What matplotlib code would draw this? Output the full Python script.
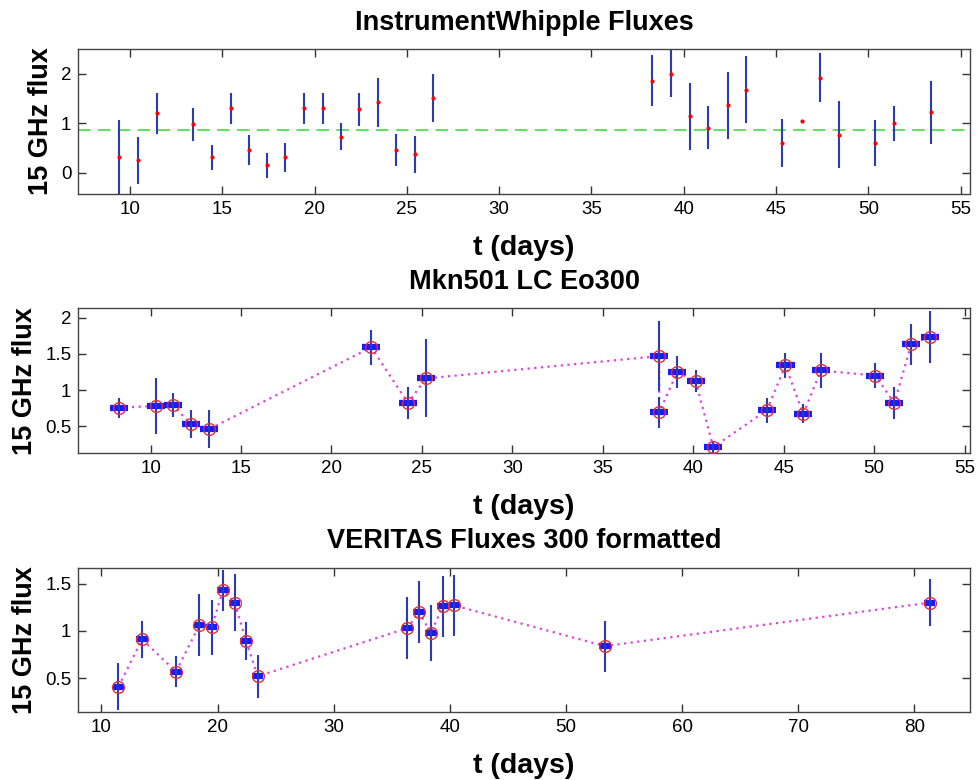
import numpy as np
import matplotlib
matplotlib.use("Agg")
import matplotlib.pyplot as plt

plt.rcParams['font.family'] = ['Liberation Sans', 'DejaVu Sans']

# panel 1 : Instrument Whipple fluxes
t1 = [9.42, 10.43, 11.47, 13.43, 14.46, 15.45, 16.44, 17.42, 18.41, 19.43,
      20.43, 21.42, 22.39, 23.41, 24.41, 25.43, 26.43,
      38.30, 39.29, 40.34, 41.32, 42.39, 43.37, 45.34, 46.40, 47.39,
      48.39, 50.36, 51.41, 53.39]
f1 = [0.31, 0.25, 1.20, 0.98, 0.31, 1.30, 0.46, 0.15, 0.31, 1.30,
      1.30, 0.73, 1.28, 1.42, 0.46, 0.37, 1.51,
      1.86, 2.00, 1.14, 0.91, 1.36, 1.68, 0.60, 1.05, 1.92,
      0.77, 0.60, 1.00, 1.22]
e1 = [0.75, 0.47, 0.41, 0.33, 0.25, 0.31, 0.31, 0.25, 0.30, 0.31,
      0.31, 0.28, 0.33, 0.49, 0.33, 0.38, 0.48,
      0.52, 0.47, 0.68, 0.44, 0.67, 0.68, 0.49, 0.0, 0.49,
      0.67, 0.46, 0.35, 0.64]
mean1 = 0.86

# panel 2 : Mkn501 LC Eo300
t2 = [8.23, 10.28, 11.22, 12.23, 13.24, 22.20, 24.23, 25.22, 38.12, 38.12,
      39.12, 40.13, 41.11, 44.07, 45.10, 46.08, 47.06, 50.07, 51.12, 52.05,
      53.10]
f2 = [0.755, 0.78, 0.79, 0.53, 0.46, 1.59, 0.82, 1.16, 1.47, 0.69,
      1.25, 1.12, 0.21, 0.72, 1.34, 0.67, 1.27, 1.20, 0.82, 1.63,
      1.74]
e2 = [0.14, 0.39, 0.17, 0.19, 0.26, 0.24, 0.22, 0.54, 0.49, 0.22,
      0.22, 0.15, 0.08, 0.17, 0.17, 0.13, 0.24, 0.17, 0.22, 0.29,
      0.36]

# panel 3 : VERITAS fluxes
t3 = [11.46, 13.50, 16.42, 18.43, 19.49, 20.46, 21.47, 22.47, 23.45,
      36.35, 37.34, 38.38, 39.40, 40.39, 53.37, 81.32]
f3 = [0.41, 0.91, 0.57, 1.06, 1.04, 1.43, 1.30, 0.89, 0.52,
      1.03, 1.20, 0.98, 1.26, 1.27, 0.84, 1.30]
e3 = [0.25, 0.20, 0.16, 0.33, 0.29, 0.22, 0.30, 0.20, 0.23,
      0.33, 0.33, 0.30, 0.32, 0.32, 0.27, 0.25]

binw = 0.5  # half-width of the daily bins

fig = plt.figure(figsize=(9.77, 7.8), dpi=100)
ax1 = fig.add_axes([0.0801, 0.7513, 0.9127, 0.1859])
ax2 = fig.add_axes([0.0801, 0.4188, 0.9127, 0.1859])
ax3 = fig.add_axes([0.0801, 0.0868, 0.9127, 0.1854])

errc = '#2b3bb5'
ax1.errorbar(t1, f1, yerr=e1, fmt='none', ecolor=errc, elinewidth=1.5, zorder=2)
ax1.plot(t1, f1, 'o', color='red', ms=3, mew=0, zorder=3)
ax1.axhline(mean1, color='#55dd55', lw=1.3, ls=(0, (7, 4)), zorder=1)


def lc_panel(ax, t, f, e):
    ax.plot(t, f, color='#dd44dd', lw=1.6, ls=(0, (1, 2)), zorder=1)
    ax.errorbar(t, f, xerr=binw, fmt='none', ecolor='#1a1aff', elinewidth=4.5, zorder=2)
    ax.errorbar(t, f, yerr=e, fmt='none', ecolor=errc, elinewidth=1.5, zorder=3)
    ax.plot(t, f, 'o', mfc='none', mec='#e03030', ms=8.5, mew=1.0, zorder=4)


lc_panel(ax2, t2, f2, e2)
lc_panel(ax3, t3, f3, e3)

ax1.set_xlim(7.2, 55.5)
ax1.set_ylim(-0.43, 2.5)
ax1.set_xticks(np.arange(10, 56, 5))
ax1.set_yticks([0, 1, 2])

ax2.set_xlim(6.0, 55.3)
ax2.set_ylim(0.124, 2.13)
ax2.set_xticks(np.arange(10, 56, 5))
ax2.set_yticks([0.5, 1, 1.5, 2])
ax2.set_yticklabels(['0.5', '1', '1.5', '2'])

ax3.set_xlim(8.0, 84.8)
ax3.set_ylim(0.139, 1.67)
ax3.set_xticks(np.arange(10, 81, 10))
ax3.set_yticks([0.5, 1, 1.5])
ax3.set_yticklabels(['0.5', '1', '1.5'])

titles = ['InstrumentWhipple Fluxes', 'Mkn501 LC Eo300', 'VERITAS Fluxes 300 formatted']
for ax, title in zip([ax1, ax2, ax3], titles):
    ax.set_title(title, fontsize=19.5, fontweight='bold', pad=14)
    ax.set_xlabel('t (days)', fontsize=20.5, fontweight='bold', labelpad=12)
    ax.set_ylabel('15 GHz flux', fontsize=19.5, fontweight='bold', labelpad=5)
    ax.tick_params(direction='in', top=True, right=True, length=6, width=1,
                   labelsize=13.5, pad=5, color='#333333')
    for s in ax.spines.values():
        s.set_color('#444444')
        s.set_linewidth(1.0)

fig.savefig('out.png', dpi=100)
